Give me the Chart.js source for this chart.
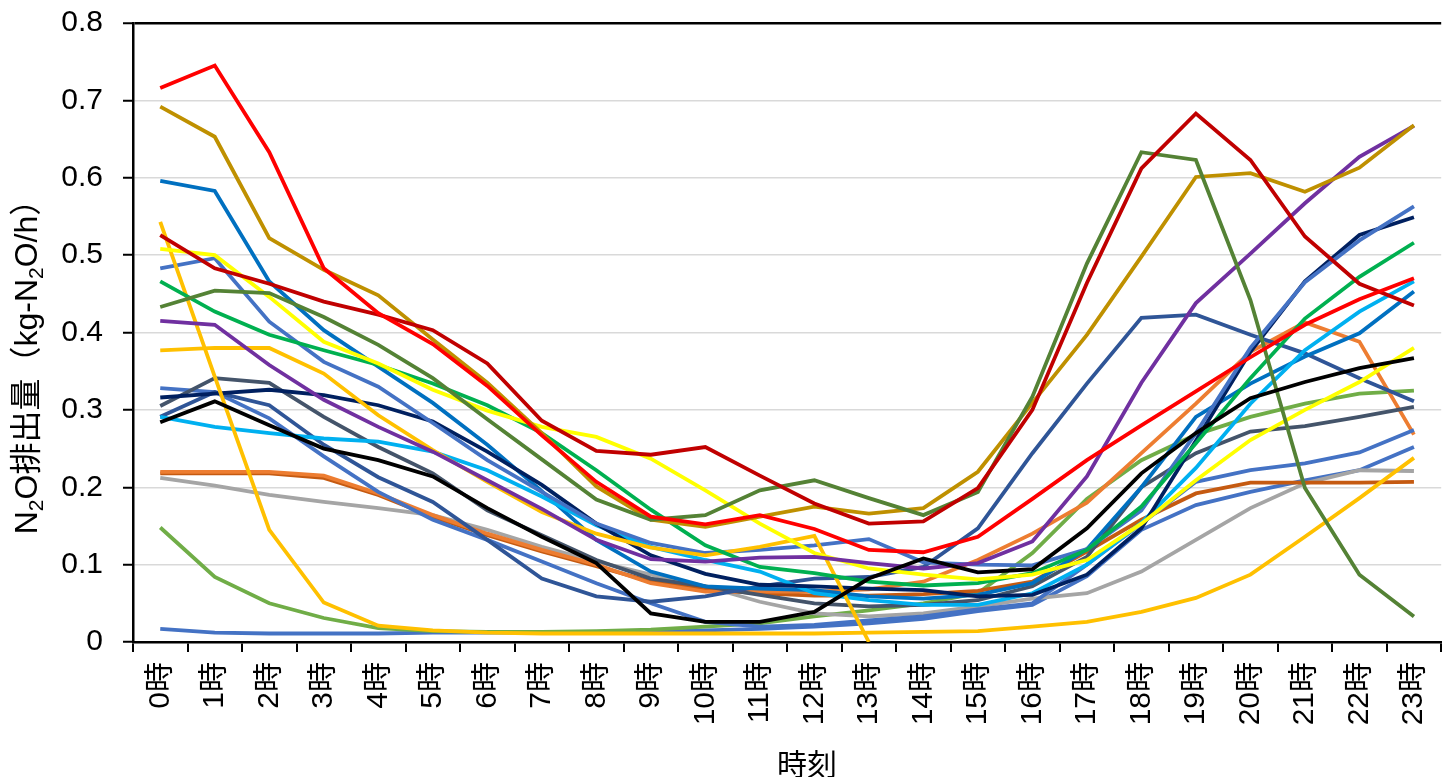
<!DOCTYPE html>
<html lang="ja">
<head>
<meta charset="utf-8">
<title>N2O排出量の時刻変化</title>
<script src="https://cdn.jsdelivr.net/npm/chart.js@4.4.1/dist/chart.umd.min.js"></script>
<style>
  html, body { margin: 0; padding: 0; background: #ffffff; overflow: hidden; }
  #wrap { width: 1460px; height: 777px; }
  canvas { display: block; }
</style>
</head>
<body>
<div id="wrap"><canvas id="chart" width="1460" height="777"></canvas></div>
<script>
// Hour categories
const hours = ['0時','1時','2時','3時','4時','5時','6時','7時','8時','9時','10時','11時',
               '12時','13時','14時','15時','16時','17時','18時','19時','20時','21時','22時','23時'];

// Y-axis tick values (kg-N2O/h)
const yTicks = [0, 0.1, 0.2, 0.3, 0.4, 0.5, 0.6, 0.7, 0.8];

// Hourly N2O emissions, one array per line
const redLine       = [0.716,0.745,0.633,0.483,0.425,0.385,0.331,0.267,0.207,0.162,0.152,0.164,0.146,0.119,0.116,0.136,0.185,0.235,0.280,0.324,0.368,0.410,0.443,0.470];
const goldLine      = [0.692,0.653,0.522,0.481,0.448,0.391,0.335,0.270,0.201,0.158,0.149,0.162,0.175,0.166,0.173,0.220,0.309,0.397,0.498,0.601,0.606,0.582,0.613,0.668];
const blueLine      = [0.596,0.583,0.466,0.403,0.356,0.309,0.255,0.195,0.132,0.091,0.072,0.069,0.067,0.059,0.056,0.061,0.076,0.120,0.200,0.291,0.334,0.369,0.399,0.453];
const darkRedLine   = [0.526,0.483,0.463,0.440,0.423,0.403,0.360,0.286,0.247,0.242,0.252,0.215,0.179,0.153,0.156,0.199,0.300,0.464,0.612,0.683,0.623,0.524,0.463,0.435];
const yellowLine    = [0.508,0.500,0.446,0.388,0.360,0.326,0.299,0.278,0.265,0.237,0.196,0.153,0.115,0.095,0.087,0.081,0.087,0.106,0.153,0.209,0.261,0.300,0.336,0.380];
const greenLine     = [0.466,0.427,0.397,0.377,0.358,0.334,0.306,0.270,0.222,0.171,0.125,0.097,0.089,0.078,0.073,0.076,0.089,0.119,0.175,0.257,0.341,0.418,0.472,0.516];
const oliveLine     = [0.433,0.454,0.451,0.420,0.384,0.341,0.288,0.236,0.184,0.158,0.164,0.196,0.209,0.186,0.164,0.194,0.317,0.489,0.633,0.623,0.442,0.199,0.087,0.033];
const purpleLine    = [0.415,0.410,0.358,0.313,0.278,0.246,0.209,0.172,0.132,0.107,0.104,0.109,0.110,0.102,0.095,0.102,0.130,0.214,0.335,0.438,0.502,0.567,0.627,0.667];
const steelLineA    = [0.483,0.496,0.414,0.362,0.330,0.283,0.235,0.194,0.153,0.128,0.115,0.119,0.125,0.133,0.103,0.100,0.099,0.120,0.170,0.270,0.380,0.465,0.519,0.563];
const steelLineB    = [0.328,0.323,0.289,0.240,0.194,0.158,0.132,0.104,0.076,0.050,0.026,0.020,0.022,0.028,0.033,0.042,0.050,0.100,0.153,0.207,0.222,0.231,0.245,0.274];
const steelLineC    = [0.017,0.012,0.011,0.011,0.011,0.012,0.012,0.012,0.012,0.013,0.015,0.017,0.020,0.024,0.030,0.040,0.048,0.085,0.145,0.177,0.194,0.209,0.222,0.252];
const amberLineA    = [0.543,0.343,0.145,0.051,0.021,0.015,0.012,0.011,0.011,0.011,0.011,0.011,0.011,0.012,0.013,0.014,0.020,0.026,0.039,0.057,0.087,0.136,0.186,0.238];
const amberLineB    = [0.377,0.380,0.380,0.347,0.293,0.248,0.207,0.168,0.140,0.122,0.112,0.123,0.137,0,null,null,null,null,null,null,null,null,null,null];
const navyLine      = [0.316,0.321,0.326,0.319,0.306,0.285,0.246,0.203,0.153,0.112,0.088,0.074,0.072,0.069,0.067,0.059,0.061,0.087,0.147,0.260,0.375,0.466,0.526,0.549];
const slateLine     = [0.305,0.341,0.335,0.291,0.252,0.218,0.170,0.138,0.106,0.082,0.072,0.061,0.050,0.046,0.048,0.054,0.072,0.110,0.200,0.244,0.272,0.279,0.291,0.304];
const cobaltLine    = [0.291,0.323,0.306,0.255,0.213,0.181,0.132,0.082,0.059,0.052,0.059,0.072,0.082,0.084,0.097,0.147,0.244,0.334,0.419,0.423,0.397,0.373,0.341,0.311];
const blackLine     = [0.284,0.311,0.280,0.250,0.235,0.214,0.173,0.136,0.102,0.037,0.026,0.026,0.039,0.082,0.108,0.090,0.094,0.147,0.218,0.270,0.315,0.336,0.354,0.367];
const skyLine       = [0.291,0.278,0.270,0.263,0.259,0.246,0.222,0.188,0.151,0.123,0.106,0.091,0.063,0.054,0.048,0.048,0.063,0.100,0.154,0.225,0.308,0.377,0.427,0.466];
const orangeLine    = [0.220,0.220,0.220,0.215,0.192,0.164,0.140,0.119,0.100,0.076,0.065,0.065,0.065,0.068,0.078,0.106,0.140,0.180,0.244,0.308,0.375,0.413,0.388,0.268];
const rustLine      = [0.218,0.218,0.218,0.212,0.190,0.162,0.138,0.117,0.098,0.078,0.068,0.063,0.060,0.060,0.062,0.066,0.078,0.117,0.158,0.192,0.206,0.206,0.206,0.207];
const grayLine      = [0.212,0.202,0.190,0.181,0.173,0.164,0.145,0.123,0.104,0.087,0.072,0.052,0.037,0.033,0.037,0.046,0.056,0.063,0.091,0.132,0.173,0.205,0.222,0.221];
const limeLine      = [0.148,0.084,0.050,0.031,0.018,0.014,0.013,0.013,0.014,0.016,0.020,0.024,0.033,0.041,0.050,0.063,0.115,0.185,0.235,0.268,0.291,0.308,0.321,0.325];

// Drawing list: first entry ends up on top
const lines = [
  { data: blackLine,   color: '#000000' },
  { data: redLine,     color: '#FF0000' },
  { data: darkRedLine, color: '#C00000' },
  { data: oliveLine,   color: '#548235' },
  { data: goldLine,    color: '#BF9000' },
  { data: purpleLine,  color: '#7030A0' },
  { data: yellowLine,  color: '#FFFF00' },
  { data: greenLine,   color: '#00B050' },
  { data: amberLineB,  color: '#FFC000' },
  { data: amberLineA,  color: '#FFC000' },
  { data: steelLineA,  color: '#4472C4' },
  { data: navyLine,    color: '#002060' },
  { data: skyLine,     color: '#00B0F0' },
  { data: blueLine,    color: '#0070C0' },
  { data: cobaltLine,  color: '#2F5597' },
  { data: slateLine,   color: '#44546A' },
  { data: steelLineB,  color: '#4472C4' },
  { data: orangeLine,  color: '#ED7D31' },
  { data: rustLine,    color: '#C55A11' },
  { data: grayLine,    color: '#A5A5A5' },
  { data: limeLine,    color: '#70AD47' },
  { data: steelLineC,  color: '#4472C4' }
];

const FONT_FAMILY = '"Liberation Sans", Arial, "Noto Sans CJK JP", sans-serif';

// Axis titles drawn with a real subscript for N2O
const axisTitles = {
  id: 'axisTitles',
  afterDraw(chart) {
    const ctx = chart.ctx;
    ctx.save();
    ctx.fillStyle = '#000';

    // Y title, rotated, reading bottom to top
    const parts = [
      { t: 'N', sub: false }, { t: '2', sub: true }, { t: 'O排出量（kg-N', sub: false },
      { t: '2', sub: true }, { t: 'O/h）', sub: false }
    ];
    const mainFont = '32px ' + FONT_FAMILY;
    const subFont = '21px ' + FONT_FAMILY;
    let total = 0;
    parts.forEach(p => { ctx.font = p.sub ? subFont : mainFont; p.w = ctx.measureText(p.t).width; total += p.w; });
    ctx.translate(28, 359);
    ctx.rotate(-Math.PI / 2);
    ctx.textBaseline = 'middle';
    ctx.textAlign = 'left';
    let x = -total / 2;
    parts.forEach(p => {
      ctx.font = p.sub ? subFont : mainFont;
      ctx.fillText(p.t, x, p.sub ? 9 : 0);
      x += p.w;
    });
    ctx.restore();

    // X title
    ctx.save();
    ctx.fillStyle = '#000';
    ctx.font = '30px ' + FONT_FAMILY;
    ctx.textAlign = 'center';
    ctx.textBaseline = 'alphabetic';
    ctx.fillText('時刻', 807, 775);
    ctx.restore();
  }
};

new Chart(document.getElementById('chart'), {
  type: 'line',
  data: {
    labels: hours,
    datasets: lines.map(l => ({
      data: l.data,
      borderColor: l.color,
      backgroundColor: l.color,
      borderWidth: 3.8,
      pointRadius: 0,
      pointHoverRadius: 0,
      tension: 0,
      fill: false,
      spanGaps: false
    }))
  },
  options: {
    responsive: false,
    devicePixelRatio: 1,
    animation: false,
    events: [],
    layout: { padding: { top: 23, right: 3, left: 0, bottom: 0 } },
    plugins: {
      legend: { display: false },
      tooltip: { enabled: false },
      title: { display: false }
    },
    scales: {
      x: {
        type: 'category',
        offset: true,
        afterFit(scale) { scale.height = 135; },
        border: { display: true, color: '#000', width: 2.5 },
        grid: {
          offset: true,
          drawOnChartArea: false,
          drawTicks: true,
          tickLength: 10,
          color: '#000',
          lineWidth: 2
        },
        ticks: {
          autoSkip: false,
          minRotation: 90,
          maxRotation: 90,
          padding: 10,
          color: '#000',
          font: { family: FONT_FAMILY, size: 30 }
        }
      },
      y: {
        min: 0,
        max: 0.8,
        afterFit(scale) {
          scale.width = 133;
          scale.paddingTop = 0;
          scale.paddingBottom = 0;
        },
        afterBuildTicks(scale) { scale.ticks = yTicks.map(v => ({ value: v })); },
        border: { display: true, color: '#000', width: 2.5 },
        grid: {
          drawTicks: true,
          tickLength: 10,
          tickColor: '#000',
          tickWidth: 2,
          color: ctx => (ctx.tick && Math.abs(ctx.tick.value - 0.8) < 1e-9) ? '#000' : '#d9d9d9',
          lineWidth: ctx => (ctx.tick && Math.abs(ctx.tick.value - 0.8) < 1e-9) ? 2.5 : 1.5
        },
        ticks: {
          padding: 20,
          color: '#000',
          font: { family: FONT_FAMILY, size: 30 },
          callback: v => (v === 0 ? '0' : Number(v).toFixed(1))
        }
      }
    }
  },
  plugins: [axisTitles]
});
</script>
</body>
</html>
